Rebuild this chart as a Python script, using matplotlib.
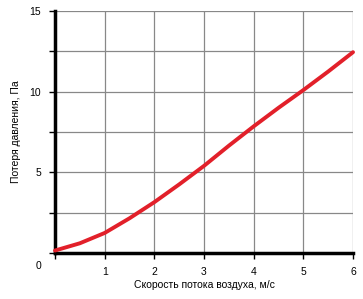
import matplotlib
matplotlib.use("Agg")
import matplotlib.pyplot as plt

speed = [0, 0.5, 1, 1.5, 2, 2.5, 3, 3.5, 4, 4.5, 5, 5.5, 6]
pressure = [0.15, 0.6, 1.24, 2.15, 3.15, 4.25, 5.4, 6.65, 7.85, 9.0, 10.1, 11.25, 12.45]
x_ticks = [1, 2, 3, 4, 5, 6]
y_ticks = [5, 10, 15]

plt.rcParams['font.family'] = ['Liberation Sans', 'DejaVu Sans']

fig = plt.figure(figsize=(3.63, 2.99), dpi=100)
ax = fig.add_axes([0.1515, 0.154, 0.821, 0.809])
ax.set_xlim(0, 6)
ax.set_ylim(0, 15)

ax.set_xticks(range(0, 7))
ax.set_xticklabels([''] + [str(t) for t in x_ticks])
ax.set_yticks([0, 2.5, 5, 7.5, 10, 12.5, 15])
ax.set_yticklabels(['', '', '5', '', '10', '', '15'])
ax.grid(True, color='#888888', linewidth=0.9)
ax.set_axisbelow(True)
ax.tick_params(axis='both', labelsize=7.5, length=4, width=1, color='black', pad=6)

for s in ['top', 'right']:
    ax.spines[s].set_visible(False)
for s in ['left', 'bottom']:
    ax.spines[s].set_linewidth(2.5)
    ax.spines[s].set_color('black')

ax.plot(speed, pressure, color='#e2202a', linewidth=2.8, solid_capstyle='round',
        solid_joinstyle='round', clip_on=False, zorder=5)

fig.text(38 / 363, 1 - 266 / 299, '0', fontsize=7.5, ha='center', va='center')
ax.set_xlabel('Скорость потока воздуха, м/с', fontsize=7.5, labelpad=2)
ax.set_ylabel('Потеря давления, Па', fontsize=7.5, labelpad=6)

fig.savefig('out.png', dpi=100)
